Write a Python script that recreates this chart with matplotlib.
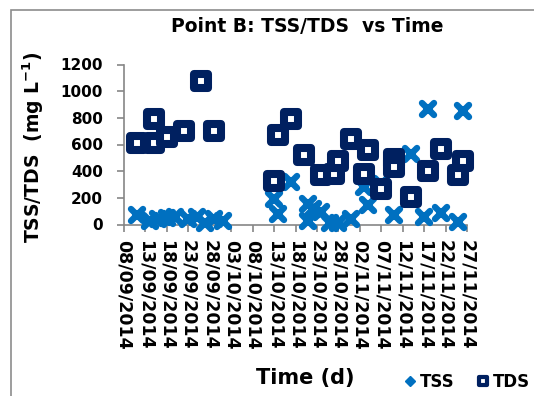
import numpy as np
import pandas as pd
import matplotlib
matplotlib.use("Agg")
import matplotlib.pyplot as plt
from matplotlib.lines import Line2D
from matplotlib.markers import MarkerStyle
from matplotlib.patches import Rectangle

# Axis tick dates (every 5 days)
tick_dates = ["08/09/2014", "13/09/2014", "18/09/2014", "23/09/2014", "28/09/2014",
              "03/10/2014", "08/10/2014", "13/10/2014", "18/10/2014", "23/10/2014",
              "28/10/2014", "02/11/2014", "07/11/2014", "12/11/2014", "17/11/2014",
              "22/11/2014", "27/11/2014"]

# Total suspended solids (mg/L)
tss_dates = ["11/09/2014", "14/09/2014", "16/09/2014", "18/09/2014", "20/09/2014",
             "23/09/2014", "25/09/2014", "27/09/2014", "29/09/2014", "01/10/2014",
             "13/10/2014", "14/10/2014", "17/10/2014", "21/10/2014", "21/10/2014",
             "22/10/2014", "24/10/2014", "26/10/2014", "28/10/2014", "31/10/2014",
             "03/11/2014", "04/11/2014", "07/11/2014", "10/11/2014", "14/11/2014",
             "17/11/2014", "18/11/2014", "21/11/2014", "25/11/2014", "26/11/2014"]
tss_values = [70, 30, 45, 52, 60,
              40, 55, 15, 45, 25,
              195, 80, 320, 155, 30,
              120, 95, 10, 15, 40,
              280, 150, 305, 70, 530,
              55, 870, 85, 20, 855]

# Total dissolved solids (mg/L)
tds_dates = ["11/09/2014", "15/09/2014", "15/09/2014", "18/09/2014", "22/09/2014",
             "26/09/2014", "29/09/2014",
             "13/10/2014", "14/10/2014", "17/10/2014", "20/10/2014", "24/10/2014",
             "27/10/2014", "28/10/2014", "31/10/2014", "03/11/2014", "04/11/2014",
             "07/11/2014", "10/11/2014", "10/11/2014", "14/11/2014", "18/11/2014",
             "21/11/2014", "25/11/2014", "26/11/2014"]
tds_values = [610, 610, 790, 660, 700,
              1075, 700,
              325, 670, 790, 520, 370,
              380, 480, 640, 380, 560,
              270, 490, 430, 205, 405,
              565, 370, 480]

y_ticks = [0, 200, 400, 600, 800, 1000, 1200]

start = pd.to_datetime(tick_dates[0], format="%d/%m/%Y")


def to_days(dates):
    return (pd.to_datetime(dates, format="%d/%m/%Y") - start).days.values.astype(float)


tss_x = to_days(tss_dates)
tds_x = to_days(tds_dates)
tick_x = to_days(tick_dates)

W, H = 534, 396
fig = plt.figure(figsize=(W / 100, H / 100), dpi=100)
fig.patch.set_facecolor("white")

# chart area border
fig.add_artist(Rectangle((11 / W, -0.1), 1.2, 1 - 10 / H + 0.1,
                         transform=fig.transFigure, fill=False,
                         ec="#8c8c8c", lw=1.2))

ax = fig.add_axes([124 / W, 1 - 224.5 / H, (467 - 124) / W, 160 / H])
ax.set_xlim(tick_x[0], tick_x[-1])
ax.set_ylim(0, 1200)

axis_col = "#868686"
for s in ["top", "right"]:
    ax.spines[s].set_visible(False)
for s in ["left", "bottom"]:
    ax.spines[s].set_color(axis_col)
    ax.spines[s].set_linewidth(1.2)

tss_col = "#0070C0"
tds_col = "#002060"

ax.plot(tss_x, tss_values, ls="none",
        marker=MarkerStyle("x", capstyle="round"), ms=8, mew=4.6,
        color=tss_col, clip_on=False, zorder=3)
ax.plot(tds_x, tds_values, ls="none",
        marker=MarkerStyle("s", joinstyle="round"), ms=10.5, mew=5.8,
        mec=tds_col, mfc="white", clip_on=False, zorder=4)

ax.set_yticks(y_ticks)
ax.set_yticklabels([str(v) for v in y_ticks], fontsize=11, fontweight="bold")
ax.set_xticks(tick_x)
ax.set_xticklabels(tick_dates, rotation=-90, fontsize=12.5, fontweight="bold")
ax.tick_params(axis="both", direction="out", length=5, width=1.2, color=axis_col)
ax.tick_params(axis="y", pad=10)
ax.tick_params(axis="x", pad=6)

fig.text(307 / W, 1 - 27 / H, "Point B: TSS/TDS  vs Time", ha="center", va="center",
         fontsize=13.5, fontweight="bold")
fig.text(33 / W, 1 - 147 / H, "TSS/TDS  (mg L$^{\\mathbf{-1}}$)", ha="center", va="center",
         rotation=90, fontsize=13.5, fontweight="bold")
fig.text(305 / W, 1 - 378 / H, "Time (d)", ha="center", va="center",
         fontsize=15, fontweight="bold")

handles = [
    Line2D([], [], ls="none", marker="D", ms=5, color=tss_col),
    Line2D([], [], ls="none", marker=MarkerStyle("s", joinstyle="round"), ms=5.5,
           mew=3, mec=tds_col, mfc="white"),
]
fig.legend(handles, ["TSS", "TDS"], loc="center left",
           bbox_to_anchor=(405 / W, 1 - 382 / H), ncol=2, frameon=False,
           handlelength=0.6, handletextpad=0.3, columnspacing=1.4,
           prop={"weight": "bold", "size": 12}, borderaxespad=0, borderpad=0)

fig.savefig("out.png", dpi=100, facecolor="white")
